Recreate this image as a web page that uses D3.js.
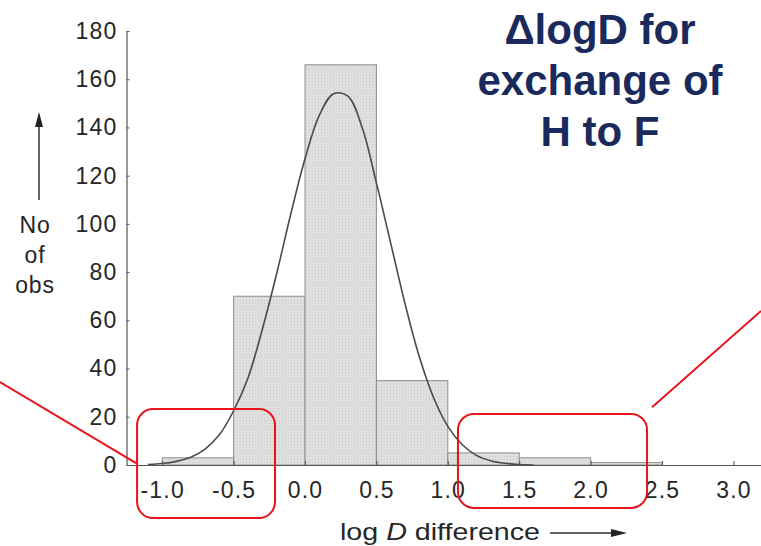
<!DOCTYPE html>
<html>
<head>
<meta charset="utf-8">
<script src="https://cdn.jsdelivr.net/npm/d3@7"></script>
<style>
  html, body { margin: 0; padding: 0; background: #fff; }
  svg { display: block; }
</style>
</head>
<body>
<svg id="chart" width="761" height="546"></svg>
<script>
// ---- data ----
const binStarts  = [-1.0, -0.5, 0.0, 0.5, 1.0, 1.5, 2.0];
const binWidth   = 0.5;
const binCounts  = [3, 70, 166, 35, 5, 3, 1];

const curveX = [-1.1,-1.0,-0.9,-0.8,-0.7,-0.6,-0.5,-0.4,-0.3,-0.2,-0.1,0.0,0.1,0.2,0.3,0.4,0.5,0.6,0.7,0.8,0.9,1.0,1.1,1.2,1.3,1.4,1.5,1.6];
const curveY = [0.2,0.6,1.5,3.2,6.6,12.5,22.5,36,56,79,104,127,145,154,153,140,117,92,67,45,28,16,8.5,4,1.8,0.7,0.2,0];

const xTicks = [-1.0,-0.5,0.0,0.5,1.0,1.5,2.0,2.5,3.0];
const yTicks = [0,20,40,60,80,100,120,140,160,180];

const titleLines = ["\u0394logD for", "exchange of", "H to F"];
const yLabelLines = ["No", "of", "obs"];

// annotation boxes / leader lines in data units
const boxes = [
  {x0: -1.176, x1: -0.21, y0: -22, y1: 23.2},
  {x0: 1.071, x1: 2.395, y0: -17.8, y1: 21.2}
];
const leaders = [
  {xa: -2.136, ya: 34.4, xb: -1.183, yb: 0.8},
  {xa: 2.43, ya: 24, xb: 3.193, yb: 63.9}
];

// ---- scales ----
const svg = d3.select("#chart");
const x = d3.scaleLinear().domain([-1.25, 3.2]).range([126.5, 762]);
const y = d3.scaleLinear().domain([0, 180]).range([465, 31]);

// pattern for stippled bars
const defs = svg.append("defs");
const pat = defs.append("pattern").attr("id", "stip").attr("patternUnits", "userSpaceOnUse")
  .attr("width", 3).attr("height", 3);
pat.append("rect").attr("width", 3).attr("height", 3).attr("fill", "#e2e2e2");
pat.append("rect").attr("x", 0).attr("y", 0).attr("width", 1).attr("height", 1).attr("fill", "#c4c4c4");
pat.append("rect").attr("x", 1.5).attr("y", 1.5).attr("width", 1).attr("height", 1).attr("fill", "#cfcfcf");

// bars
svg.append("g").selectAll("rect").data(binStarts).join("rect")
  .attr("x", (d) => x(d))
  .attr("width", (d) => x(d + binWidth) - x(d))
  .attr("y", (d, i) => y(binCounts[i]))
  .attr("height", (d, i) => y(0) - y(binCounts[i]))
  .attr("fill", "url(#stip)")
  .attr("stroke", "#8e8e8e")
  .attr("stroke-width", 1);

// fitted curve
const line = d3.line().x((d) => x(d)).y((d, i) => y(curveY[i])).curve(d3.curveCatmullRom);
svg.append("path").datum(curveX).attr("d", line)
  .attr("fill", "none").attr("stroke", "#4a4a4a").attr("stroke-width", 1.6);

// axes
const tickFont = "'Liberation Sans', Arial, Helvetica, sans-serif";
const yAxis = svg.append("g").attr("transform", `translate(${x(-1.25)},0)`)
  .call(d3.axisLeft(y).tickValues(yTicks).tickSize(-3).tickSizeOuter(0).tickPadding(9).tickFormat(d3.format("d")));
const xAxis = svg.append("g").attr("transform", `translate(0,${y(0)})`)
  .call(d3.axisBottom(x).tickValues(xTicks).tickSize(-4).tickSizeOuter(0).tickPadding(17).tickFormat((d) => d.toFixed(1)));
[xAxis, yAxis].forEach((g) => {
  g.select(".domain").attr("stroke", "#555").attr("stroke-width", 1.2);
  g.selectAll(".tick line").attr("stroke", "#555");
  g.selectAll(".tick text").attr("fill", "#262626")
    .style("font-family", tickFont).style("font-size", "23px").style("letter-spacing", "1.2px");
});

// y label
const yl = svg.append("g").style("font-family", tickFont).style("font-size", "23px").attr("fill", "#262626");
yLabelLines.forEach((t, i) => {
  yl.append("text").attr("x", 35).attr("y", 233 + i * 30).attr("text-anchor", "middle")
    .style("letter-spacing", "0.8px").text(t);
});
svg.append("line").attr("x1", 39).attr("x2", 39).attr("y1", 200).attr("y2", 125)
  .attr("stroke", "#333").attr("stroke-width", 1.5);
svg.append("path").attr("d", "M39,112 L35,127 L43,127 Z").attr("fill", "#222");

// x label
const xl = svg.append("text").attr("x", 340).attr("y", 540)
  .style("font-family", tickFont).style("font-size", "24px").attr("fill", "#262626")
  .attr("textLength", 200).attr("lengthAdjust", "spacingAndGlyphs");
xl.append("tspan").text("log ");
xl.append("tspan").style("font-style", "italic").text("D");
xl.append("tspan").text(" difference");
svg.append("line").attr("x1", 550).attr("x2", 614).attr("y1", 533).attr("y2", 533)
  .attr("stroke", "#333").attr("stroke-width", 1.5);
svg.append("path").attr("d", "M627,533 L611,529 L611,537 Z").attr("fill", "#222");

// title
const tt = svg.append("g").style("font-family", "'Liberation Sans', Arial, sans-serif")
  .style("font-size", "42px").style("font-weight", "bold").attr("fill", "#1a2a5c");
titleLines.forEach((t, i) => {
  tt.append("text").attr("x", 600).attr("y", 44 + i * 51).attr("text-anchor", "middle").text(t);
});

// red annotations
svg.append("g").selectAll("rect").data(boxes).join("rect")
  .attr("x", (d) => x(d.x0)).attr("width", (d) => x(d.x1) - x(d.x0))
  .attr("y", (d) => y(d.y1)).attr("height", (d) => y(d.y0) - y(d.y1))
  .attr("rx", 16).attr("ry", 16)
  .attr("fill", "none").attr("stroke", "#e8141b").attr("stroke-width", 2);
svg.append("g").selectAll("line").data(leaders).join("line")
  .attr("x1", (d) => x(d.xa)).attr("y1", (d) => y(d.ya))
  .attr("x2", (d) => x(d.xb)).attr("y2", (d) => y(d.yb))
  .attr("stroke", "#e8141b").attr("stroke-width", 2);
</script>
</body>
</html>
